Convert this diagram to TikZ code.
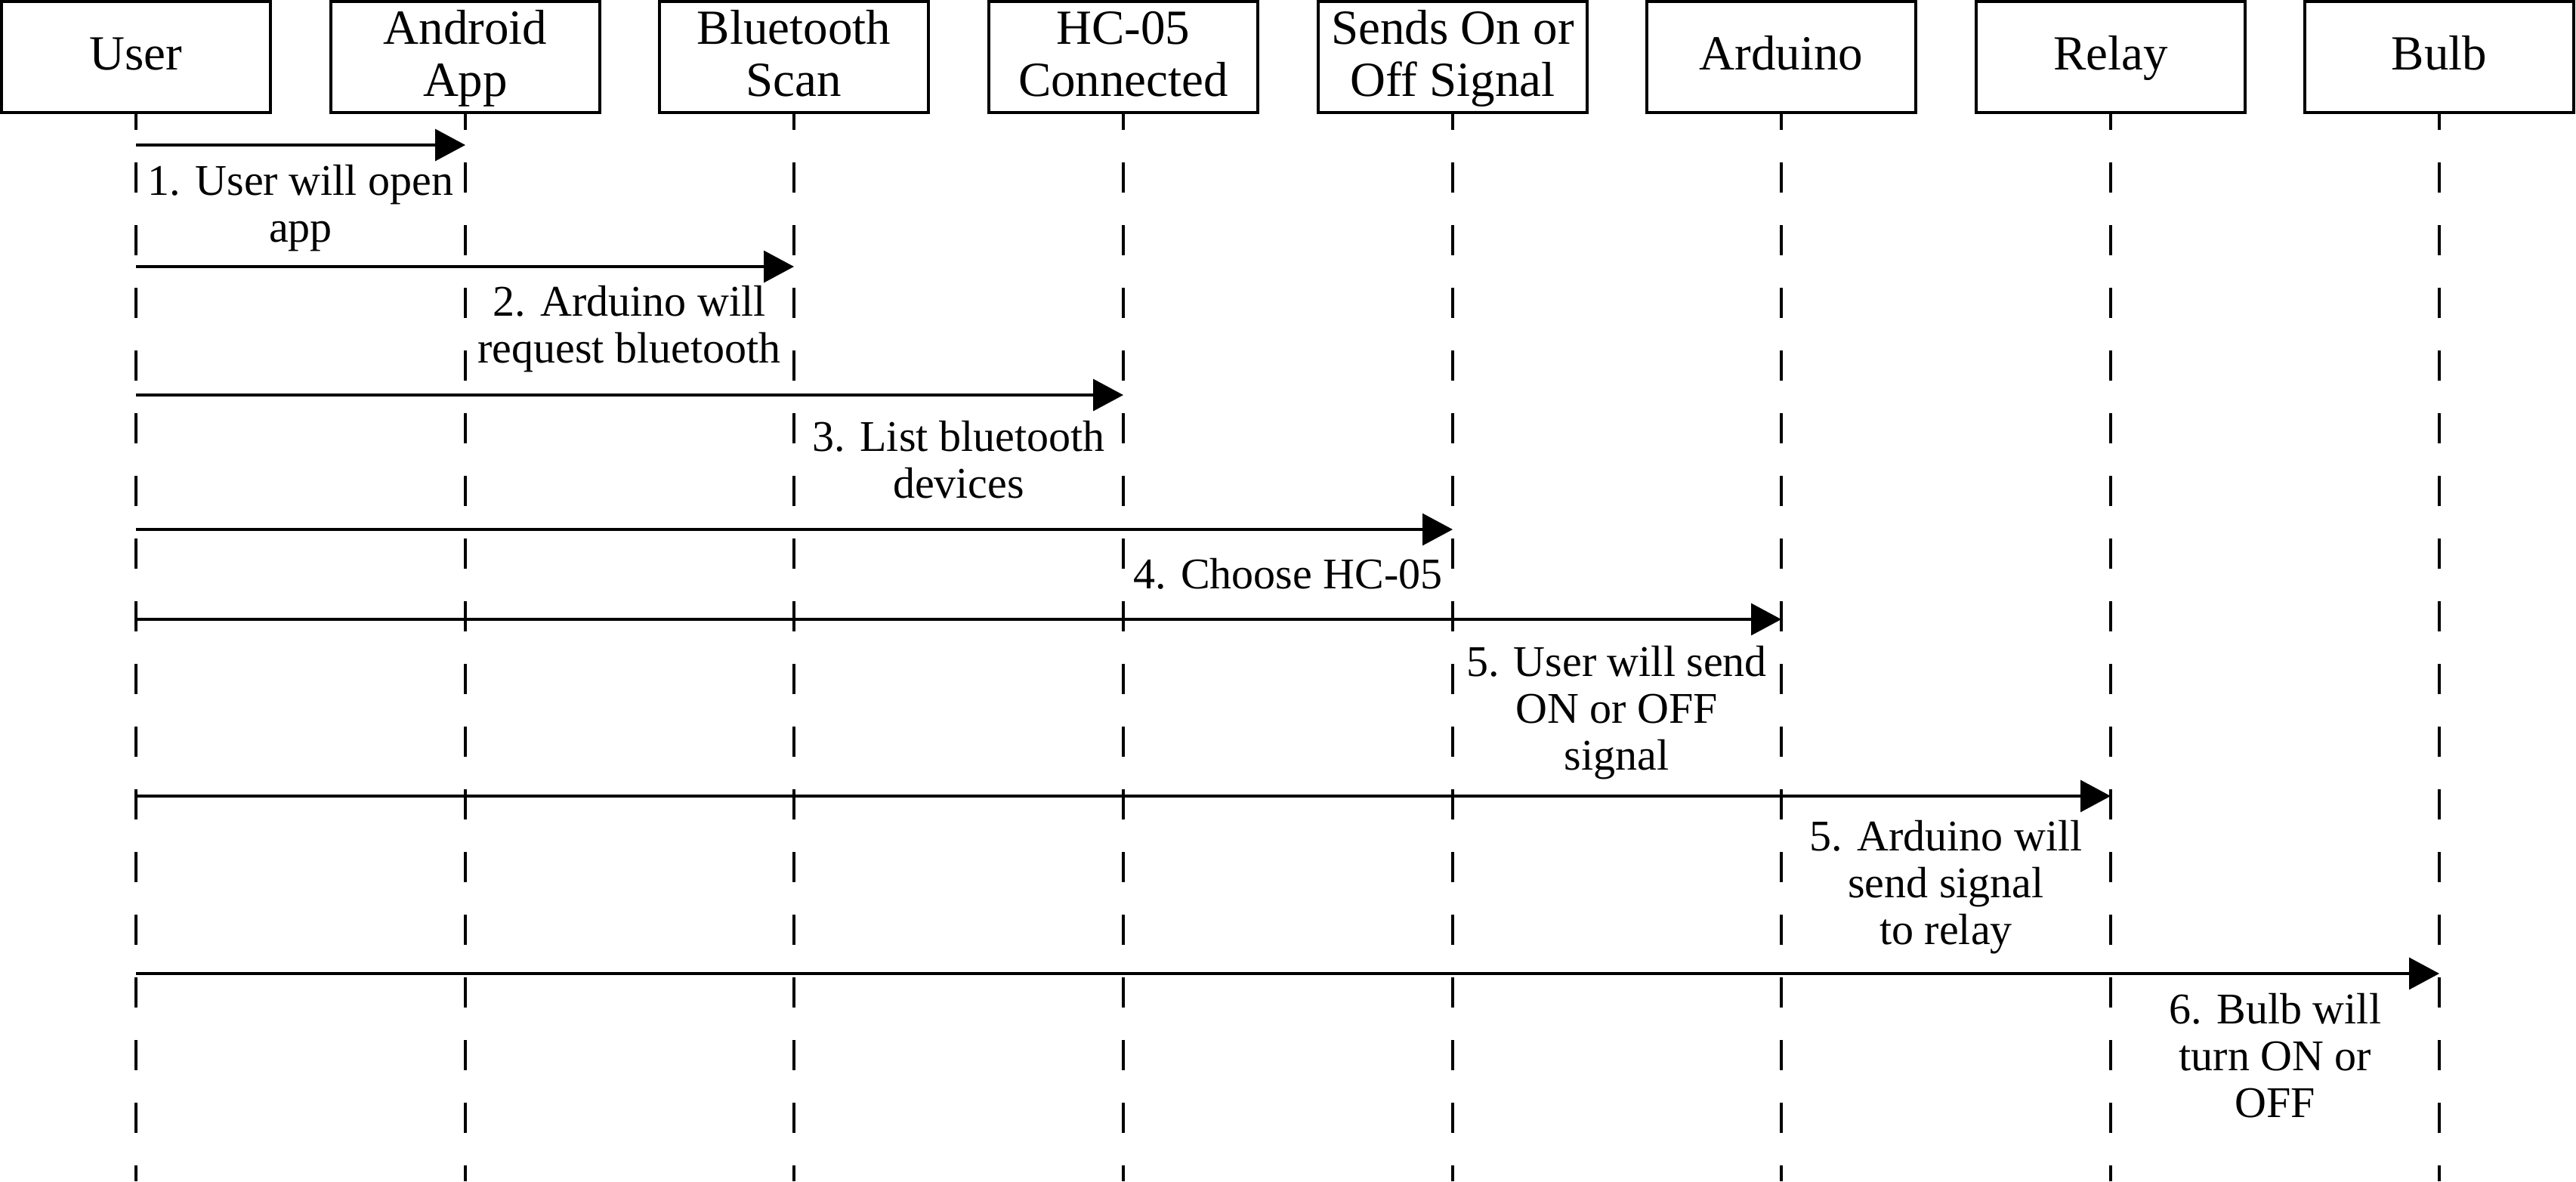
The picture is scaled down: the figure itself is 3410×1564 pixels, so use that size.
\documentclass[tikz,border=0pt]{standalone}
\usepackage{fontspec}
\setmainfont{Liberation Serif}
\usetikzlibrary{arrows.meta}
\newcommand{\hs}{\rule[-0.3\baselineskip]{0pt}{1.1\baselineskip}}
\begin{document}
\begin{tikzpicture}[x=0.2pt,y=-0.2pt,
  actor/.style={draw,line width=0.9pt,minimum width=71.2pt,minimum height=29.4pt,inner sep=0pt,align=center,font=\fontsize{13pt}{13.8pt}\selectfont},
  life/.style={line width=0.8pt,dash pattern=on 8pt off 8.6pt,dash phase=3.8pt},
  msg/.style={line width=0.7pt,-{Triangle[length=8pt,width=8.4pt]}},
  lbl/.style={align=center,inner sep=0pt,font=\fontsize{11.6pt}{12.4pt}\selectfont}]
\useasboundingbox (0,0) rectangle (3410,1564);
% actors
\node[actor] (u)  at (180,75.5)  {\hs User};
\node[actor] (aa) at (616,75.5)  {\hs Android\\\strut App};
\node[actor] (bs) at (1051,75.5) {\hs Bluetooth\\\strut Scan};
\node[actor] (hc) at (1487,75.5) {\hs HC-05\\\strut Connected};
\node[actor] (so) at (1923,75.5) {\hs Sends On or\\\strut Off Signal};
\node[actor] (ar) at (2358,75.5) {\hs Arduino};
\node[actor] (re) at (2794,75.5) {\hs Relay};
\node[actor] (bu) at (3229,75.5) {\hs Bulb};
% lifeline ends
\foreach \n in {u,aa,bs,hc,so,ar,re,bu}{
  \coordinate (\n-end) at (\n.south |- 0,1564);
  \draw[life] (\n.south) -- (\n-end);
}
% message end points
\coordinate (m1a) at (u |- 0,192);  \coordinate (m1b) at (aa |- 0,192);
\coordinate (m2a) at (u |- 0,353);  \coordinate (m2b) at (bs |- 0,353);
\coordinate (m3a) at (u |- 0,523);  \coordinate (m3b) at (hc |- 0,523);
\coordinate (m4a) at (u |- 0,701);  \coordinate (m4b) at (so |- 0,701);
\coordinate (m5a) at (u |- 0,820);  \coordinate (m5b) at (ar |- 0,820);
\coordinate (m6a) at (u |- 0,1054); \coordinate (m6b) at (re |- 0,1054);
\coordinate (m7a) at (u |- 0,1289); \coordinate (m7b) at (bu |- 0,1289);
\draw[msg] (m1a) -- (m1b);
\draw[msg] (m2a) -- (m2b);
\draw[msg] (m3a) -- (m3b);
\draw[msg] (m4a) -- (m4b);
\draw[msg] (m5a) -- (m5b);
\draw[msg] (m6a) -- (m6b);
\draw[msg] (m7a) -- (m7b);
% labels
\node[lbl] (l1) at (398,277)   {\strut 1. User will open\\\strut app};
\node[lbl] (l2) at (833,437)   {\strut 2. Arduino will\\\strut request bluetooth};
\node[lbl] (l3) at (1269,616)  {\strut 3. List bluetooth\\\strut devices};
\node[lbl] (l4) at (1705,767)  {\strut 4. Choose HC-05};
\node[lbl] (l5) at (2140,945)  {\strut 5. User will send\\\strut ON or OFF\\\strut signal};
\node[lbl] (l6) at (2576,1176) {\strut 5. Arduino will\\\strut send signal\\\strut to relay};
\node[lbl] (l7) at (3012,1405) {\strut 6. Bulb will\\\strut turn ON or\\\strut OFF};
\end{tikzpicture}
\end{document}
